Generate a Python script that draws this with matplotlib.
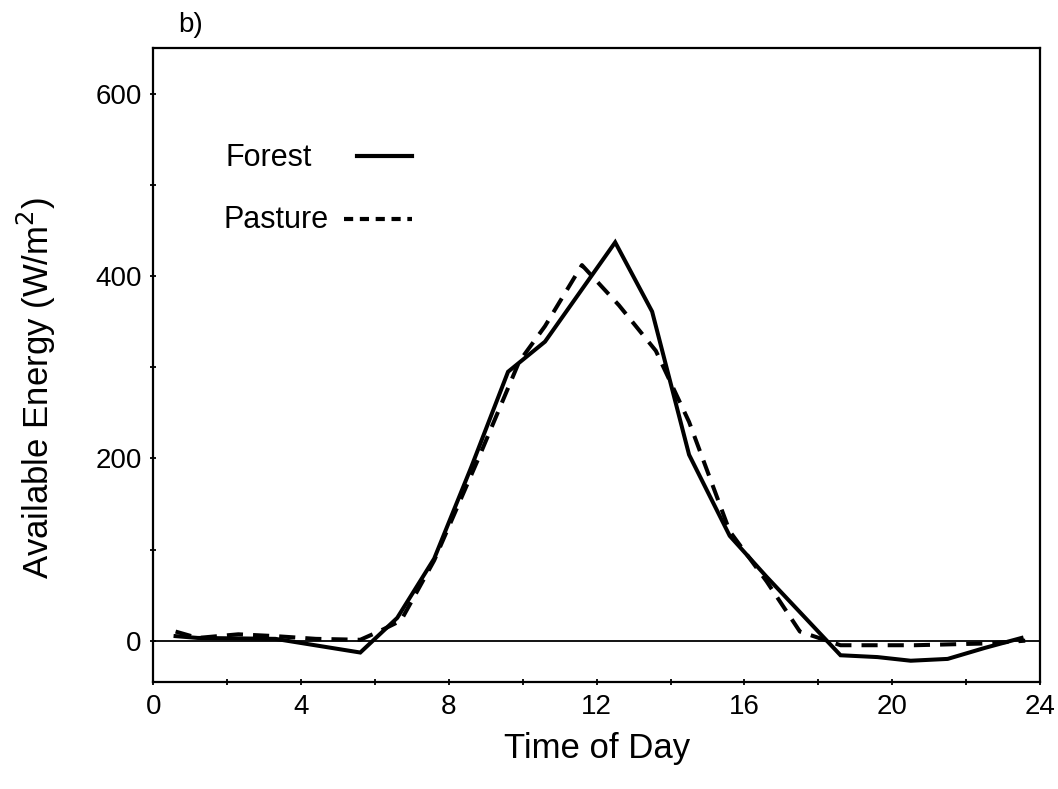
import matplotlib.pyplot as plt

# =========================================================
# DADOS
# =========================================================
hora_forest = [0.6, 1.2, 3.3, 5.6, 6.6, 7.6, 8.6, 9.6, 10.6, 12.5, 13.5,
               14.5, 15.6, 16.6, 18.6, 19.6, 20.5, 21.5, 22.5, 23.5]
energia_forest = [5, 3, 2, -13, 25, 90, 190, 295, 328, 437, 361,
                  204, 115, 70, -16, -18, -22, -20, -8, 3]

hora_pasture = [0.6, 1.2, 2.3, 3.3, 4.4, 5.6, 6.1, 6.7, 7.6, 8.8, 9.9, 10.6,
                11.6, 12.6, 13.6, 14.5, 15.6, 16.6, 17.5, 18.6, 19.6, 20.6,
                21.6, 22.6, 23.6]
energia_pasture = [10, 3, 7, 5, 2, 1, 10, 22, 88, 200, 306, 345,
                   412, 368, 318, 240, 120, 65, 10, -5, -5, -5,
                   -4, -3, 0]

x_ticks = [0, 4, 8, 12, 16, 20, 24]
y_ticks = [0, 200, 400, 600]

plt.rcParams['font.family'] = ['Liberation Sans', 'DejaVu Sans']

# =========================================================
# GRAFICO
# =========================================================
fig = plt.figure(figsize=(10.58, 7.89), dpi=100)
ax = fig.add_axes([0.145, 0.136, 0.838, 0.803])

ax.axhline(0, color='black', lw=1.3)

ax.plot(hora_forest, energia_forest, color='black', lw=2.9,
        solid_joinstyle='miter')
ax.plot(hora_pasture, energia_pasture, color='black', lw=2.9,
        dashes=(4, 2.5))

ax.set_xlim(0, 24)
ax.set_ylim(-45, 650)
ax.set_xticks(x_ticks)
ax.set_yticks(y_ticks)
ax.set_xticks(range(0, 25, 2), minor=True)
ax.set_yticks(range(0, 650, 100), minor=True)
ax.tick_params(axis='both', which='both', direction='inout', length=5,
               width=1.3, labelsize=20, pad=6)

for s in ax.spines.values():
    s.set_linewidth(1.6)

ax.set_xlabel('Time of Day', fontsize=25, labelpad=9)
ax.set_ylabel('Available Energy (W/m$^2$)', fontsize=25)
ax.yaxis.set_label_coords(-0.108, 0.464)

# legenda desenhada a mao, como no original
ax.text(1.95, 530, 'Forest', fontsize=22, va='center')
ax.plot([5.5, 7.0], [532, 532], color='black', lw=3.0)
ax.text(1.9, 462, 'Pasture', fontsize=22, va='center')
ax.plot([5.15, 7.0], [463, 463], color='black', lw=3.0, dashes=(2.2, 1.6))

fig.text(0.168, 0.968, 'b)', fontsize=20, va='center')

plt.savefig('out.png', dpi=100)
